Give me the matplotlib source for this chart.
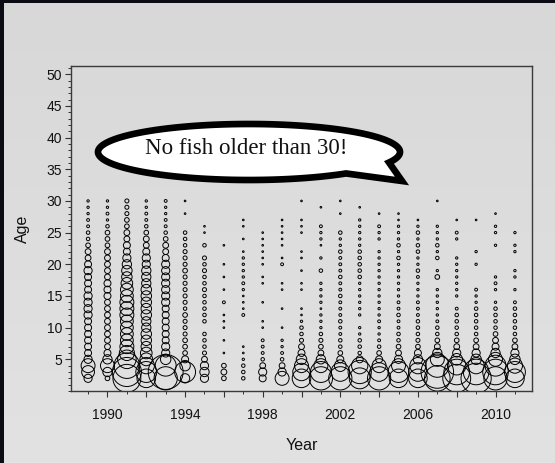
import numpy as np
import matplotlib
matplotlib.use("Agg")
import matplotlib.pyplot as plt
from matplotlib.ticker import MultipleLocator, FuncFormatter
from matplotlib.patches import PathPatch
from matplotlib.path import Path
from matplotlib.colors import LinearSegmentedColormap

plt.rcParams['font.family'] = ['Liberation Sans', 'DejaVu Sans']

# Survey years and ages sampled
years = list(range(1989, 2012))
ages = list(range(2, 31))

# Relative catch-at-age index per year (ages 2..30); 0 = none caught
c1989 = [49,121,144,49,36,36,36,36,36,36,49,49,49,49,36,36,36,49,36,25,25,16,9,9,6,6,4,4,4]
c1990 = [16,64,144,64,36,25,25,25,25,25,25,25,25,36,36,36,25,25,25,25,25,16,16,16,9,4,6,4,4]
c1991 = [576,625,484,256,169,144,121,121,121,121,144,144,144,121,121,100,81,81,64,49,36,36,25,25,16,16,12,12,12]
c1992 = [256,324,196,121,100,81,81,81,64,64,81,81,81,81,81,64,64,64,49,49,36,25,25,16,9,6,6,4,4]
c1993 = [400,900,324,81,49,49,36,36,36,36,36,36,49,49,49,49,49,49,49,36,25,25,16,9,6,6,4,4,6]
c1994 = [64,324,81,36,16,16,16,12,12,12,16,9,12,12,12,12,12,16,12,12,12,9,9,9,0,0,2,0,2]
c1995 = [49,64,49,25,12,9,9,9,0,9,9,9,9,9,12,9,9,12,9,12,0,9,0,2,2,0,0,0,0]
c1996 = [16,25,16,0,2,0,2,0,2,2,2,0,6,0,2,0,2,0,2,0,0,2,0,0,0,0,0,0,0]
c1997 = [9,9,9,4,2,2,0,0,0,0,6,2,2,2,4,6,4,4,4,4,2,0,2,0,2,2,0,0,0]
c1998 = [36,49,25,9,6,6,6,0,2,2,0,0,2,0,0,2,2,0,2,2,2,2,2,2,0,0,0,0,0]
c1999 = [144,49,25,9,6,4,4,0,2,0,0,2,0,0,2,2,0,0,6,2,0,2,2,2,2,2,0,0,0]
c2000 = [256,225,144,81,36,25,12,9,9,4,2,2,0,0,2,2,0,2,0,2,2,0,0,2,2,2,0,0,2]
c2001 = [400,324,144,64,25,16,12,9,4,4,4,2,4,4,4,4,0,9,0,4,0,2,4,4,6,0,0,2,0]
c2002 = [400,256,100,36,16,9,9,6,6,9,6,6,6,9,6,6,9,6,6,6,9,4,4,9,0,0,2,0,2]
c2003 = [324,400,196,36,9,9,9,4,4,0,4,4,4,4,4,4,9,9,9,9,9,4,4,4,4,4,0,2,0]
c2004 = [400,256,144,36,16,9,6,4,4,6,4,4,4,4,4,4,4,4,4,4,4,0,4,4,6,0,2,0,0]
c2005 = [256,324,144,49,25,16,9,9,6,6,9,6,6,4,4,4,4,4,4,9,4,9,4,4,4,2,2,0,0]
c2006 = [256,256,196,64,36,16,12,9,9,9,6,6,6,4,4,4,6,9,4,4,9,9,4,9,4,2,0,0,0]
c2007 = [484,784,400,144,64,25,16,9,9,6,4,4,4,4,4,0,16,4,0,9,4,9,4,4,4,0,0,0,2]
c2008 = [576,484,256,100,49,25,16,9,9,9,9,6,0,4,4,4,4,4,4,4,0,0,4,6,0,2,0,0,0]
c2009 = [676,484,196,81,49,25,16,9,9,9,9,9,4,4,6,0,0,0,4,0,4,0,0,0,0,2,0,0,0]
c2010 = [400,484,324,144,64,36,25,16,9,9,9,9,4,0,4,6,4,0,0,0,0,4,0,4,4,0,2,0,0]
c2011 = [256,324,169,81,49,25,16,9,9,9,9,9,6,0,4,0,4,4,0,0,4,4,0,4,0,0,0,0,0]

catch = [c1989, c1990, c1991, c1992, c1993, c1994, c1995, c1996, c1997, c1998,
         c1999, c2000, c2001, c2002, c2003, c2004, c2005, c2006, c2007, c2008,
         c2009, c2010, c2011]

callout = "No fish older than 30!"

W, H, DPI = 555, 463, 100
fig = plt.figure(figsize=(W / DPI, H / DPI), dpi=DPI)
fig.patch.set_facecolor('#0b0b14')

# light gray slide panel with a soft vertical gradient
bg = fig.add_axes([4 / W, 0, 1 - 4 / W, 1 - 3 / H])
grad = np.linspace(0, 1, 256).reshape(-1, 1)
cmap = LinearSegmentedColormap.from_list('panel', ['#d8d8d8', '#e2e2e2'])
bg.imshow(grad, aspect='auto', cmap=cmap, extent=[0, 1, 0, 1], origin='upper')
bg.axis('off')

ax = fig.add_axes([71 / W, (H - 391) / H, (532 - 71) / W, (391 - 66) / H])
ax.patch.set_alpha(0)

# bubble area proportional to the catch index
area_scale = 1.35 * (72 / DPI) ** 2
age_arr = np.array(ages)
for yr, row in zip(years, catch):
    vals = np.array(row, dtype=float)
    keep = vals > 0
    ax.scatter(np.full(keep.sum(), yr), age_arr[keep],
               s=vals[keep] * area_scale,
               facecolors='none', edgecolors='black', linewidths=0.7)

ax.set_xlim(1988.12, 2011.88)
ax.set_ylim(0, 51.3)

ax.xaxis.set_major_locator(MultipleLocator(2))
ax.xaxis.set_minor_locator(MultipleLocator(1))
ax.xaxis.set_major_formatter(FuncFormatter(
    lambda v, p: f"{int(round(v))}" if int(round(v)) % 4 == 2 else ""))
ax.set_yticks(range(5, 51, 5))
ax.yaxis.set_minor_locator(MultipleLocator(1))

tick_col = '#333333'
ax.tick_params(which='major', direction='out', length=4.3, width=0.8,
               color=tick_col, labelsize=10, labelcolor='#111111')
ax.tick_params(which='minor', direction='out', length=2.2, width=0.7,
               color=tick_col)
ax.tick_params(axis='x', which='major', pad=8)
ax.tick_params(axis='y', which='major', pad=2)

for sp in ax.spines.values():
    sp.set_color('#3a3a3a')
    sp.set_linewidth(1.0)

ax.set_xlabel('Year', fontsize=11.5, color='#111111')
ax.xaxis.label.set_va('center')
ax.xaxis.set_label_coords(0.5, -(445 - 391) / 325)
ax.set_ylabel('Age', fontsize=11.5, color='#111111')
ax.yaxis.label.set_va('center')
ax.yaxis.set_label_coords((22 - 71) / 461, 0.5)

# speech bubble: ellipse with a pointed tail at lower right
cx, cy, a, b = 249, 152, 151, 28
th1, th2 = np.radians(22), np.radians(50)
t = np.linspace(th2, th1 + 2 * np.pi, 400)
xs = cx + a * np.cos(t)
ys = cy + b * np.sin(t)
tip = (402, 181)
xs = np.append(xs, [tip[0], xs[0]])
ys = np.append(ys, [tip[1], ys[0]])
verts = np.column_stack([xs / W, 1 - ys / H])
codes = [Path.MOVETO] + [Path.LINETO] * (len(verts) - 2) + [Path.CLOSEPOLY]
bubble = PathPatch(Path(verts, codes), facecolor='white', edgecolor='black',
                   lw=4.8, joinstyle='miter', transform=fig.transFigure)
fig.add_artist(bubble)
fig.text(246 / W, 1 - 149 / H, callout, ha='center', va='center',
         family=['Liberation Serif', 'DejaVu Serif'], fontsize=16.5, color='#111111')

fig.savefig('out.png', dpi=DPI, facecolor=fig.get_facecolor())
